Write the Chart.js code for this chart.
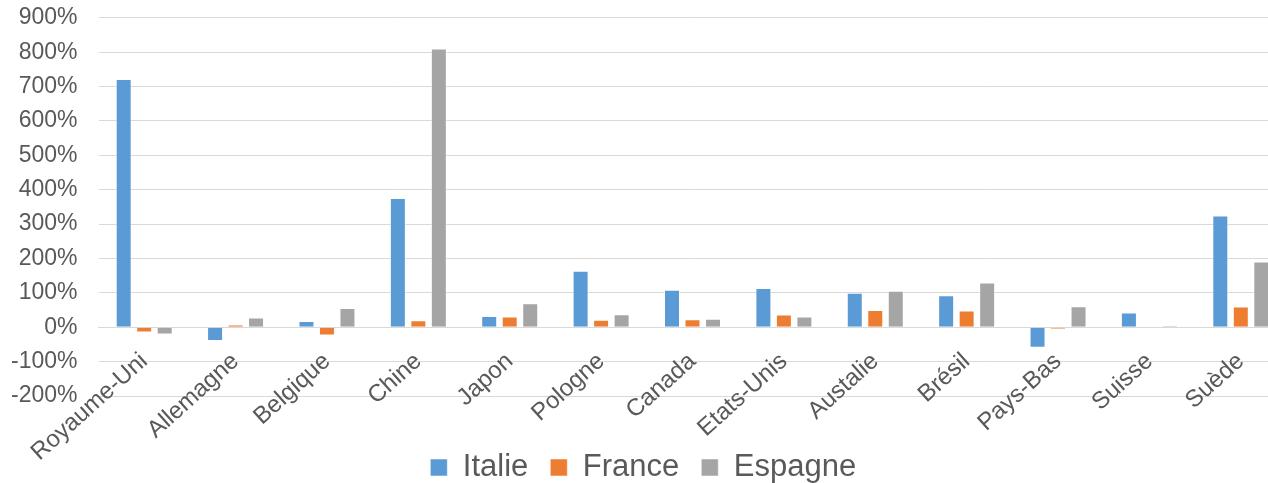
<!DOCTYPE html>
<html><head><meta charset="utf-8">
<script src="https://cdn.jsdelivr.net/npm/chart.js@4"></script>
<style>html,body{margin:0;padding:0;overflow:hidden;background:#fff;width:1268px;height:483px}#wrap{position:absolute;left:0;top:-17px;width:1300px;height:500px}</style>
</head><body><div id="wrap"><canvas id="c"></canvas></div>
<script>
const categories = ['Royaume-Uni','Allemagne','Belgique','Chine','Japon','Pologne','Canada','Etats-Unis','Austalie','Brésil','Pays-Bas','Suisse','Suède'];
const italie  = [722, -40, 18, 376, 33, 164, 109, 114, 100, 93, -60, 43, 325];
const france  = [-15, 8, -24, 20, 31, 22, 23, 37, 50, 49, -6, -2, 60];
const espagne = [-21, 28, 56, 811, 70, 38, 25, 31, 106, 130, 61, 5, 191];
const seriesNames = ['Italie', 'France', 'Espagne'];
const yMin = -200, yMax = 900, yStep = 100;

const colors = ['#5B9BD5', '#ED7D31', '#A5A5A5'];
const txt = '#595959';
const fam = '"Liberation Sans", Arial, sans-serif';

new Chart(document.getElementById('c'), {
  type: 'bar',
  data: {
    labels: categories,
    datasets: [italie, france, espagne].map((d, i) => ({
      label: seriesNames[i],
      data: d,
      backgroundColor: colors[i],
      borderColor: 'rgba(255,255,255,0.5)',
      borderWidth: 1,
      categoryPercentage: 0.673,
      barPercentage: 0.78
    }))
  },
  options: {
    responsive: true,
    maintainAspectRatio: false,
    animation: false,
    layout: { padding: { top: 0, right: 13.5, left: 0, bottom: -10 } },
    plugins: {
      legend: {
        position: 'bottom',
        title: { display: true, text: '', font: { size: 12 }, padding: { top: 19.6, bottom: 0 } },
        labels: { font: { family: fam, size: 31 }, color: txt, boxWidth: 17, boxHeight: 17, padding: 22 }
      },
      tooltip: { enabled: false }
    },
    scales: {
      x: {
        position: { y: 0 },
        grid: { display: false },
        border: { color: '#D9D9D9', width: 1 },
        ticks: { font: { family: fam, size: 24 }, color: txt, minRotation: 42, maxRotation: 42, autoSkip: false, padding: 12 }
      },
      y: {
        min: yMin, max: yMax,
        grid: { color: '#D9D9D9', lineWidth: 1, drawTicks: false },
        border: { display: false },
        ticks: { stepSize: yStep, font: { family: fam, size: 23 }, color: txt, padding: 21, callback: v => v + '%' },
        afterFit: s => { s.width = 98.5; }
      }
    }
  }
});
</script>
</body></html>
